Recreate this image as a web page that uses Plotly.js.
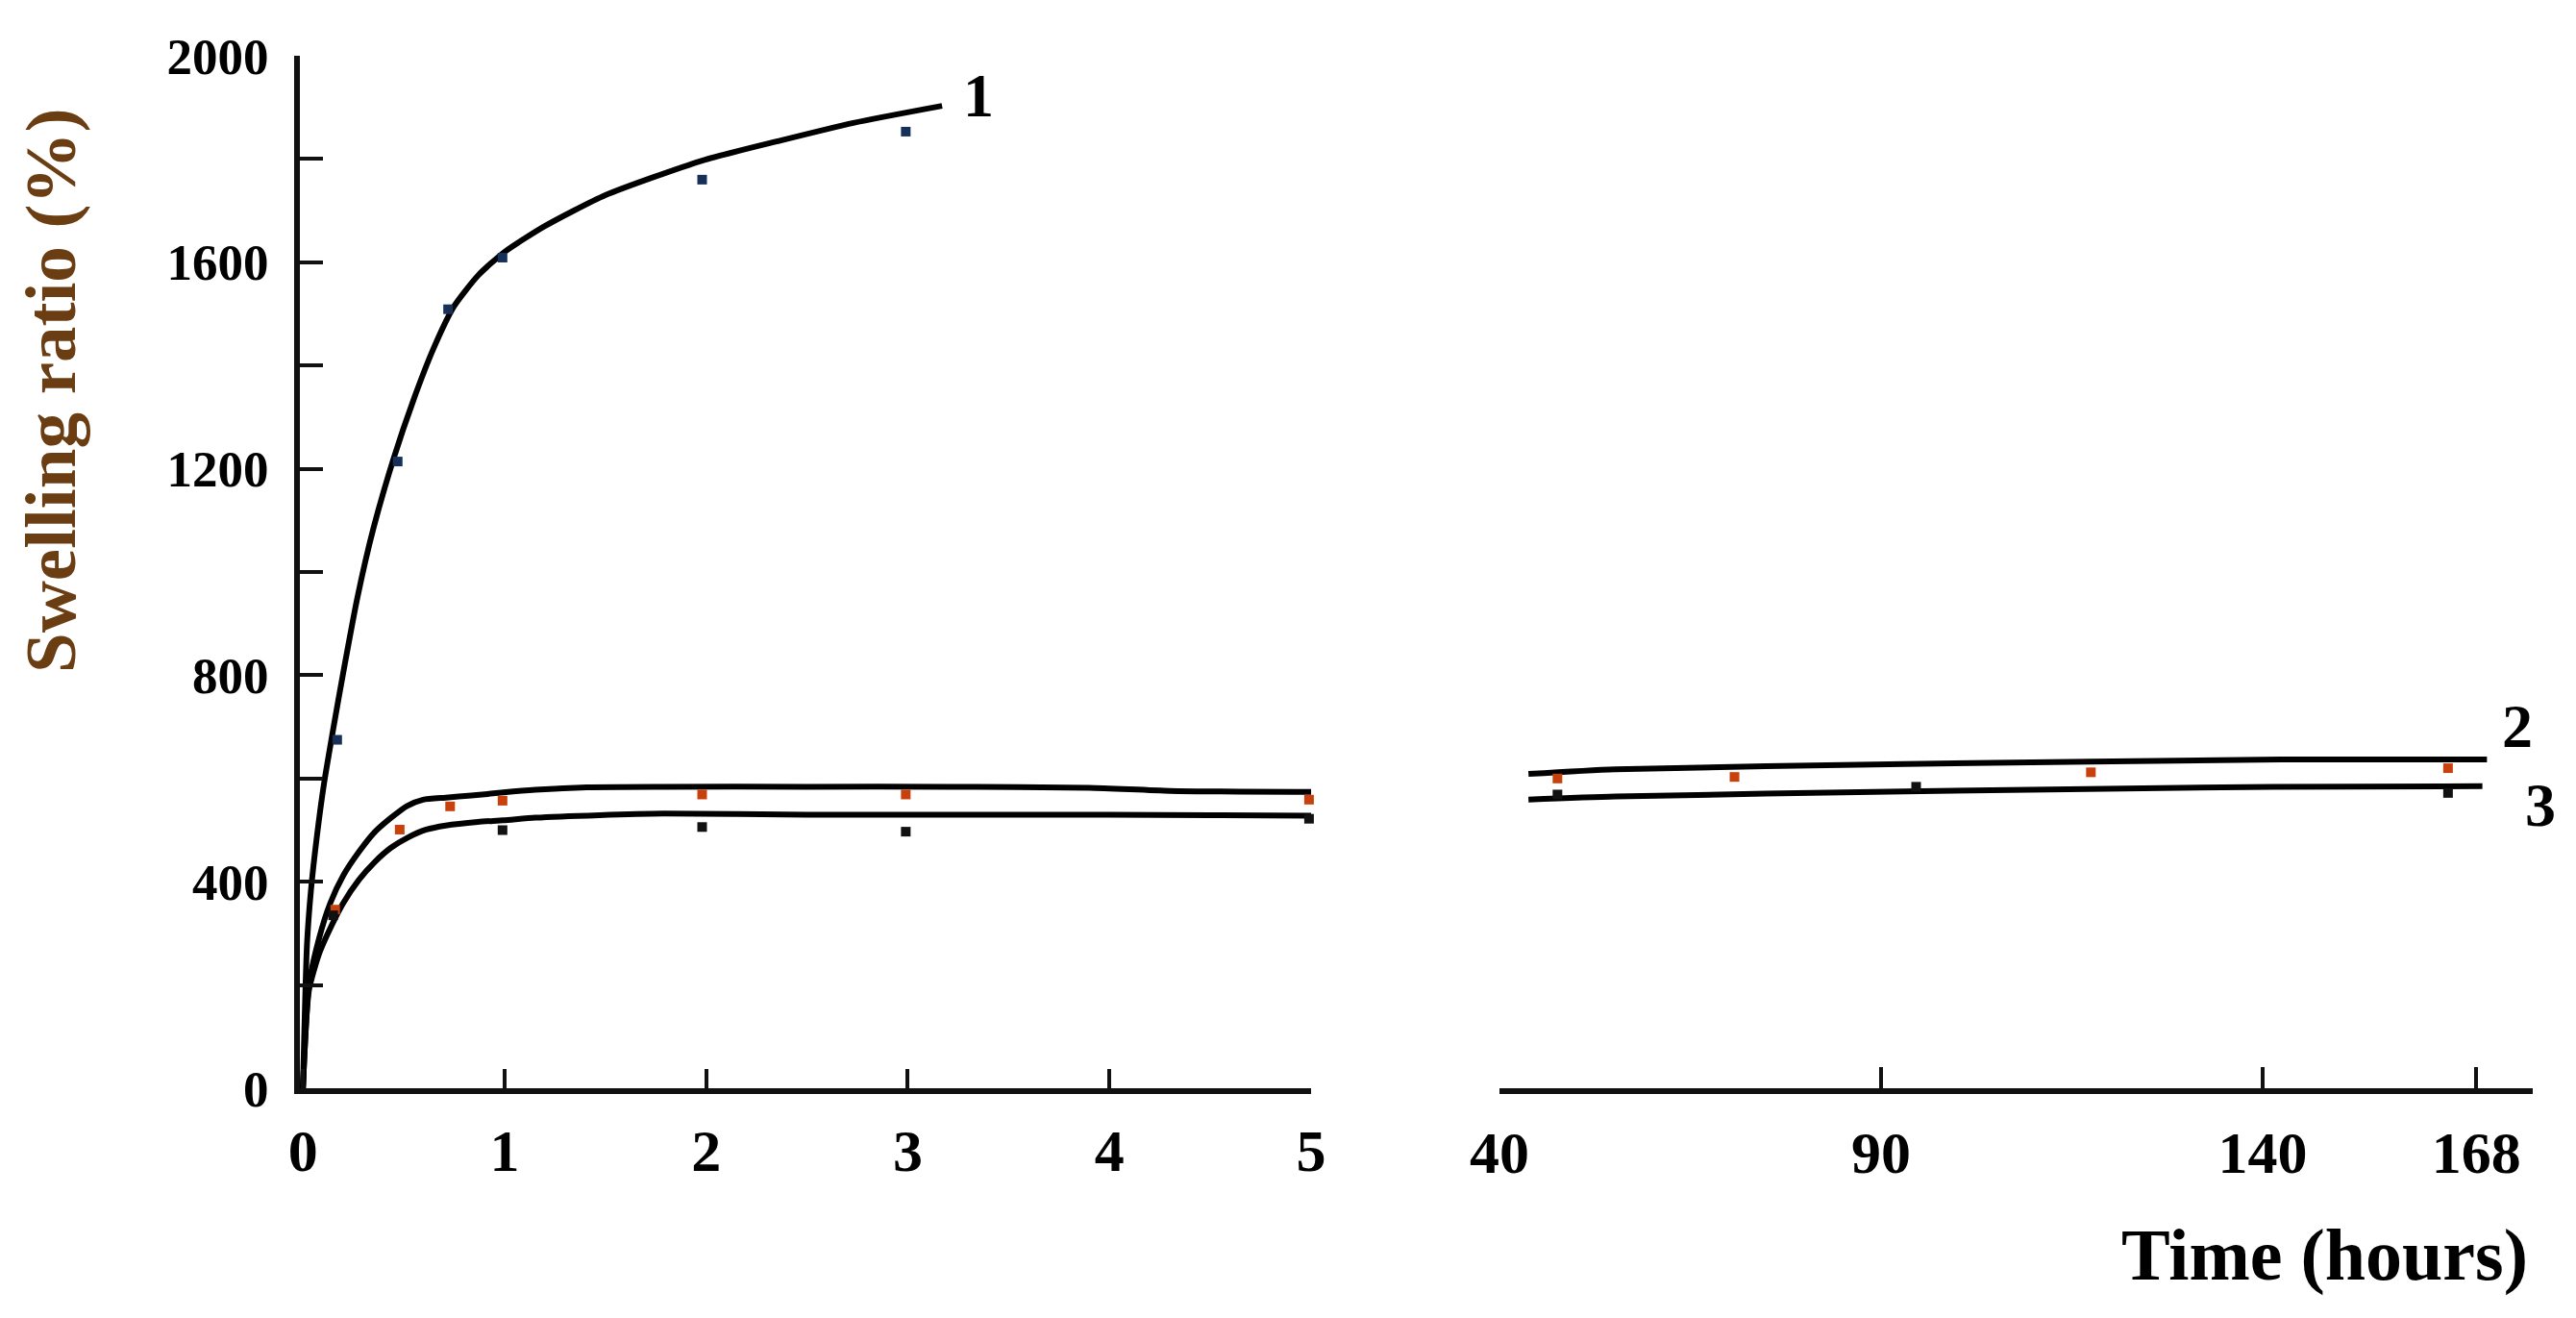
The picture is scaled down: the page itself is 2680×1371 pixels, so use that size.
<!DOCTYPE html>
<html>
<head>
<meta charset="utf-8">
<script src="https://cdn.plot.ly/plotly-3.0.1.min.js"></script>
<style>html,body{margin:0;padding:0;background:#fff;}#chart{width:2680px;height:1371px;}</style>
</head>
<body>
<div id="chart"></div>
<script>
// ---- data ----
// short-time panel (hours 0-5)
var s1CurveT = [0, 0.02, 0.04, 0.07, 0.105, 0.15, 0.2, 0.27, 0.35, 0.45, 0.55, 0.65, 0.75, 0.87, 1.0, 1.2, 1.5, 1.98, 2.37, 2.73, 3.17];
var s1CurveV = [0, 277, 384, 490, 591, 695, 805, 950, 1085, 1220, 1335, 1435, 1515, 1575, 1620, 1670, 1730, 1797, 1836, 1870, 1903];
var s1PointT = [0.17, 0.47, 0.72, 0.99, 1.98, 2.99];
var s1PointV = [675, 1214, 1509, 1609, 1760, 1853];

var s2CurveT = [0, 0.03, 0.08, 0.135, 0.2, 0.278, 0.358, 0.437, 0.517, 0.596, 0.708, 0.835, 0.994, 1.153, 1.407, 1.79, 2.5, 3.2, 3.9, 4.3, 5.0];
var s2CurveV = [0, 200, 290, 358, 412, 458, 497, 524, 547, 559, 563, 567, 573, 578, 583, 584, 584, 584, 582, 576, 574];
var s2PointT = [0.16, 0.48, 0.73, 0.99, 1.98, 2.99, 4.99];
var s2PointV = [346, 501, 546, 557, 569, 569, 559];

var s3CurveT = [0, 0.03, 0.08, 0.119, 0.199, 0.278, 0.358, 0.437, 0.517, 0.612, 0.708, 0.867, 0.994, 1.153, 1.471, 1.79, 2.5, 3.5, 4.5, 5.0];
var s3CurveV = [0, 190, 260, 296, 358, 404, 439, 466, 485, 501, 509, 516, 519, 524, 529, 532, 530, 530, 529, 528];
var s3PointT = [0.15, 0.99, 1.98, 2.99, 4.99];
var s3PointV = [335, 500, 506, 497, 522];

// long-time panel (hours 40-168)
var s2LongCurveT = [43.8, 55.2, 93.1, 142.4, 169.4];
var s2LongCurveV = [609, 618, 628, 637, 637];
var s2LongPointT = [47.6, 70.8, 117.5, 164.3];
var s2LongPointV = [600, 603, 612, 620];

var s3LongCurveT = [43.8, 55.2, 93.1, 141.4, 168.8];
var s3LongCurveV = [559, 565, 575, 584, 585];
var s3LongPointT = [47.6, 94.6, 164.3];
var s3LongPointV = [569, 584, 572];

// axis ticks
var yTickVals = [0, 200, 400, 600, 800, 1000, 1200, 1400, 1600, 1800, 2000];
var yTickText = ['0', '', '400', '', '800', '', '1200', '', '1600', '', '2000'];
var xShortTicks = [0, 1, 2, 3, 4, 5];
var xLongTicks = [40, 90, 140, 168];
var curveLabels = ['1', '2', '3'];

// ---- styling ----
var FONT = '"Liberation Serif", "Times New Roman", serif';
var lineStyle = {color: '#000000', width: 6, shape: 'spline', smoothing: 0.6};

function curve(t, v, xa) {
  return {x: t, y: v, xaxis: xa, yaxis: 'y', mode: 'lines', line: lineStyle, hoverinfo: 'skip', showlegend: false};
}
function pts(t, v, xa, col) {
  return {x: t, y: v, xaxis: xa, yaxis: 'y', mode: 'markers', cliponaxis: false,
    marker: {symbol: 'square', size: 10, color: col, line: {width: 0}}, hoverinfo: 'skip', showlegend: false};
}

var traces = [
  curve(s1CurveT, s1CurveV, 'x'),
  curve(s2CurveT, s2CurveV, 'x'),
  curve(s3CurveT, s3CurveV, 'x'),
  pts(s1PointT, s1PointV, 'x', '#16305a'),
  pts(s2PointT, s2PointV, 'x', '#c8400c'),
  pts(s3PointT, s3PointV, 'x', '#111111'),
  curve(s2LongCurveT, s2LongCurveV, 'x2'),
  curve(s3LongCurveT, s3LongCurveV, 'x2'),
  pts(s2LongPointT, s2LongPointV, 'x2', '#c8400c'),
  pts(s3LongPointT, s3LongPointV, 'x2', '#111111')
];

var W = 2680, H = 1371;
function px(x) { return x / W; }
function py(y) { return (H - y) / H; }

var xTickFont = {family: FONT, size: 62, color: '#000', weight: 'bold'};
var yTickFont = {family: FONT, size: 53, color: '#000', weight: 'bold'};
var axCommon = {
  showgrid: false, zeroline: false, showline: true, linecolor: '#111', linewidth: 6,
  ticks: 'inside', tickcolor: '#111', tickwidth: 4, fixedrange: true
};

var layout = {
  width: W, height: H,
  margin: {l: 0, r: 0, t: 0, b: 0, pad: 0},
  paper_bgcolor: '#ffffff', plot_bgcolor: 'rgba(0,0,0,0)',
  showlegend: false,
  xaxis: Object.assign({}, axCommon, {
    domain: [px(312), px(1364)], range: [-0.015, 5.0], anchor: 'y',
    tickmode: 'array', tickvals: xShortTicks, ticktext: xShortTicks.map(String),
    ticklen: 20, ticklabelstandoff: 6, tickfont: xTickFont
  }),
  xaxis2: Object.assign({}, axCommon, {
    domain: [px(1560), px(2635)], range: [40, 175.4], anchor: 'y',
    tickmode: 'array', tickvals: xLongTicks, ticktext: xLongTicks.map(String),
    ticklen: 22, ticklabelstandoff: 8, tickfont: xTickFont
  }),
  yaxis: Object.assign({}, axCommon, {
    domain: [py(1132), py(58)], range: [0, 2000], anchor: 'x',
    tickmode: 'array', tickvals: yTickVals, ticktext: yTickText,
    ticklen: 24, ticklabelstandoff: 16, tickfont: yTickFont
  }),
  annotations: [
    {text: 'Swelling ratio (%)', xref: 'paper', yref: 'paper', x: px(52), y: py(407),
     xanchor: 'center', yanchor: 'middle', textangle: -90, showarrow: false,
     font: {family: FONT, size: 75, color: '#6b3d12', weight: 'bold'}},
    {text: 'Time (hours)', xref: 'paper', yref: 'paper', x: px(2632), y: py(1305),
     xanchor: 'right', yanchor: 'middle', showarrow: false,
     font: {family: FONT, size: 76, color: '#000', weight: 'bold'}},
    {text: curveLabels[0], xref: 'paper', yref: 'paper', x: px(1018), y: py(100),
     xanchor: 'center', yanchor: 'middle', showarrow: false,
     font: {family: FONT, size: 64, color: '#000', weight: 'bold'}},
    {text: curveLabels[1], xref: 'paper', yref: 'paper', x: px(2619), y: py(755),
     xanchor: 'center', yanchor: 'middle', showarrow: false,
     font: {family: FONT, size: 64, color: '#000', weight: 'bold'}},
    {text: curveLabels[2], xref: 'paper', yref: 'paper', x: px(2643), y: py(838),
     xanchor: 'center', yanchor: 'middle', showarrow: false,
     font: {family: FONT, size: 64, color: '#000', weight: 'bold'}}
  ]
};

Plotly.newPlot('chart', traces, layout, {displayModeBar: false, staticPlot: true});
</script>
</body>
</html>
